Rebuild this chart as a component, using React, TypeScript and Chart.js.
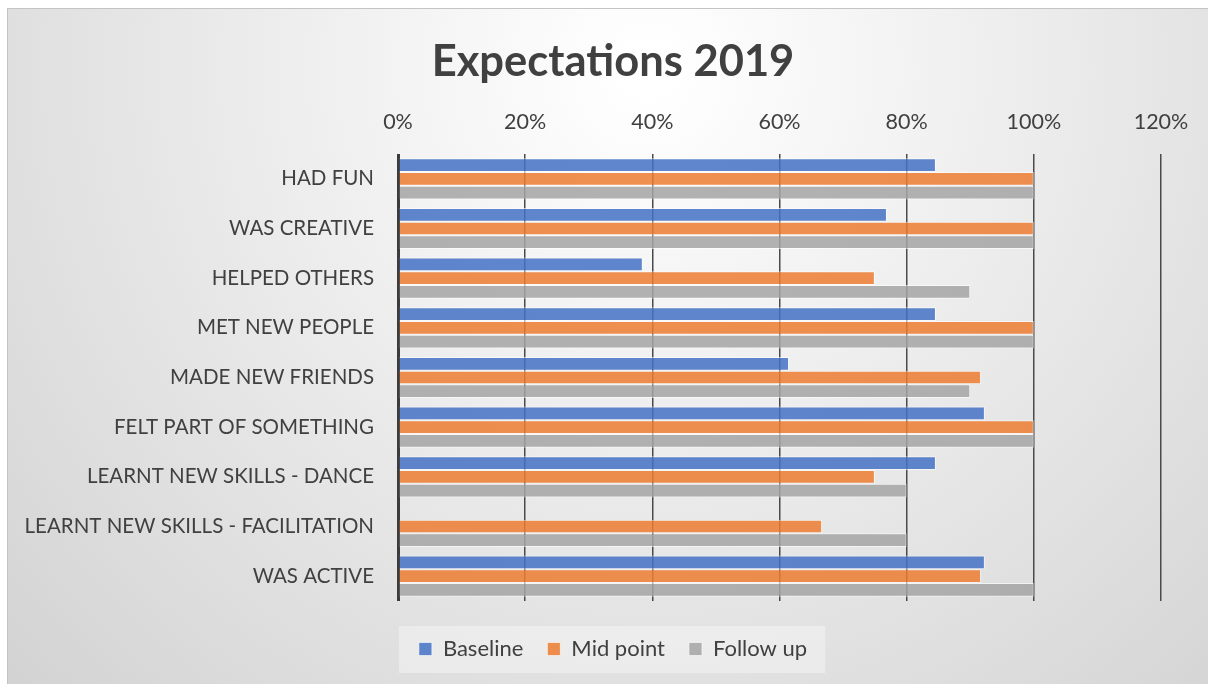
import React, { useEffect, useRef } from "react";
import { Chart, registerables } from "chart.js";

Chart.register(...registerables);

const categories = [
  "HAD FUN",
  "WAS CREATIVE",
  "HELPED OTHERS",
  "MET NEW PEOPLE",
  "MADE NEW FRIENDS",
  "FELT PART OF SOMETHING",
  "LEARNT NEW SKILLS - DANCE",
  "LEARNT NEW SKILLS - FACILITATION",
  "WAS ACTIVE",
];

const baseline = [84.6, 76.9, 38.5, 84.6, 61.5, 92.3, 84.6, null, 92.3];
const midPoint = [100, 100, 75, 100, 91.7, 100, 75, 66.7, 91.7];
const followUp = [100, 100, 90, 100, 90, 100, 80, 80, 100];

const tickValues = [0, 20, 40, 60, 80, 100, 120];

const FONT = "Lato, 'Open Sans', sans-serif";
const TEXT = "#404040";

const bgPlugin = {
  id: "bgPlugin",
  beforeDraw(chart: any) {
    const { ctx, width, height } = chart;
    ctx.save();
    const g = ctx.createRadialGradient(640, 60, 20, 640, 60, 900);
    g.addColorStop(0, "#ffffff");
    g.addColorStop(1, "#d2d2d2");
    ctx.fillStyle = g;
    ctx.fillRect(0, 0, width, height);
    const lg = chart.legend;
    if (lg && lg.legendHitBoxes && lg.legendHitBoxes.length) {
      const hb = lg.legendHitBoxes;
      let minX = Infinity, maxX = -Infinity, minY = Infinity, maxY = -Infinity;
      hb.forEach((b: any) => {
        minX = Math.min(minX, b.left);
        maxX = Math.max(maxX, b.left + b.width);
        minY = Math.min(minY, b.top);
        maxY = Math.max(maxY, b.top + b.height);
      });
      ctx.fillStyle = "rgba(255,255,255,0.35)";
      ctx.fillRect(minX - 20, minY - 12, maxX - minX + 38, maxY - minY + 25);
    }
    ctx.restore();
  },
};

const spacer = (pos: string, size: number) => ({
  type: "linear",
  position: pos,
  display: true,
  min: 0,
  max: 1,
  ticks: { display: false },
  grid: { display: false, drawTicks: false },
  border: { display: false },
  afterFit: (axis: any) => {
    if (pos === "right" || pos === "left") axis.width = size;
    else axis.height = size;
  },
});

export default function App() {
  const ref = useRef<HTMLCanvasElement | null>(null);
  useEffect(() => {
    let chart: any = null;
    let cancelled = false;
    const make = () => {
      if (cancelled || !ref.current) return;
      chart = new Chart(ref.current, {
        type: "bar",
        data: {
          labels: categories,
          datasets: [
            {
              label: "Baseline",
              data: baseline,
              backgroundColor: "rgba(68,114,196,0.85)",
              borderColor: "rgba(255,255,255,0.6)",
              borderWidth: 1,
            },
            {
              label: "Mid point",
              data: midPoint,
              backgroundColor: "rgba(237,125,49,0.85)",
              borderColor: "rgba(255,255,255,0.6)",
              borderWidth: 1,
            },
            {
              label: "Follow up",
              data: followUp,
              backgroundColor: "rgba(165,165,165,0.85)",
              borderColor: "rgba(255,255,255,0.6)",
              borderWidth: 1,
            },
          ],
        },
        options: {
          indexAxis: "y",
          animation: false,
          responsive: false,
          maintainAspectRatio: false,
          layout: { padding: { left: 10, right: 0, top: 24, bottom: 15 } },
          datasets: {
            bar: { categoryPercentage: 0.83, barPercentage: 1 },
          },
          scales: {
            x: {
              position: "top",
              min: 0,
              max: 120,
              afterBuildTicks: (axis: any) => {
                axis.ticks = tickValues.map((v) => ({ value: v }));
              },
              ticks: {
                callback: (v: any) => v + "%",
                font: { family: FONT, size: 21.5 },
                color: TEXT,
                padding: 19,
              },
              grid: {
                color: (c: any) => (c.tick && c.tick.value === 0 ? "#3c3c3c" : "#4a4a4a"),
                lineWidth: (c: any) => (c.tick && c.tick.value === 0 ? 3 : 1.5),
                drawTicks: false,
              },
              border: { display: false },
            },
            y: {
              ticks: {
                font: { family: FONT, size: 20.5 },
                color: TEXT,
                padding: 24,
              },
              grid: { display: false, drawTicks: false },
              border: { display: false },
              afterFit: (axis: any) => {
                axis.width = 380;
              },
            },
            yR: spacer("right", 47),
            xB: spacer("bottom", 13),
          },
          plugins: {
            title: {
              display: true,
              text: "Expectations 2019",
              font: { family: FONT, size: 43.5, weight: "bold" },
              color: TEXT,
              padding: { top: 3, bottom: 2 },
            },
            legend: {
              position: "bottom",
              labels: {
                font: { family: FONT, size: 22 },
                color: TEXT,
                boxWidth: 13,
                boxHeight: 13,
                padding: 24,
              },
            },
            tooltip: { enabled: false },
          },
        },
        plugins: [bgPlugin],
      } as any);
    };
    const fonts: any = (document as any).fonts;
    if (fonts && fonts.load) {
      Promise.all([fonts.load("21px Lato"), fonts.load("bold 43px Lato")])
        .catch(() => null)
        .then(make);
    } else {
      make();
    }
    return () => {
      cancelled = true;
      if (chart) chart.destroy();
    };
  }, []);
  return (
    <div
      style={{
        position: "fixed",
        left: 7,
        top: 8,
        width: 1201,
        height: 676,
        borderTop: "1px solid #c4c4c4",
        borderLeft: "1px solid #c4c4c4",
        overflow: "hidden",
      }}
    >
      <canvas ref={ref} width={1200} height={676} style={{ display: "block" }} />
    </div>
  );
}
